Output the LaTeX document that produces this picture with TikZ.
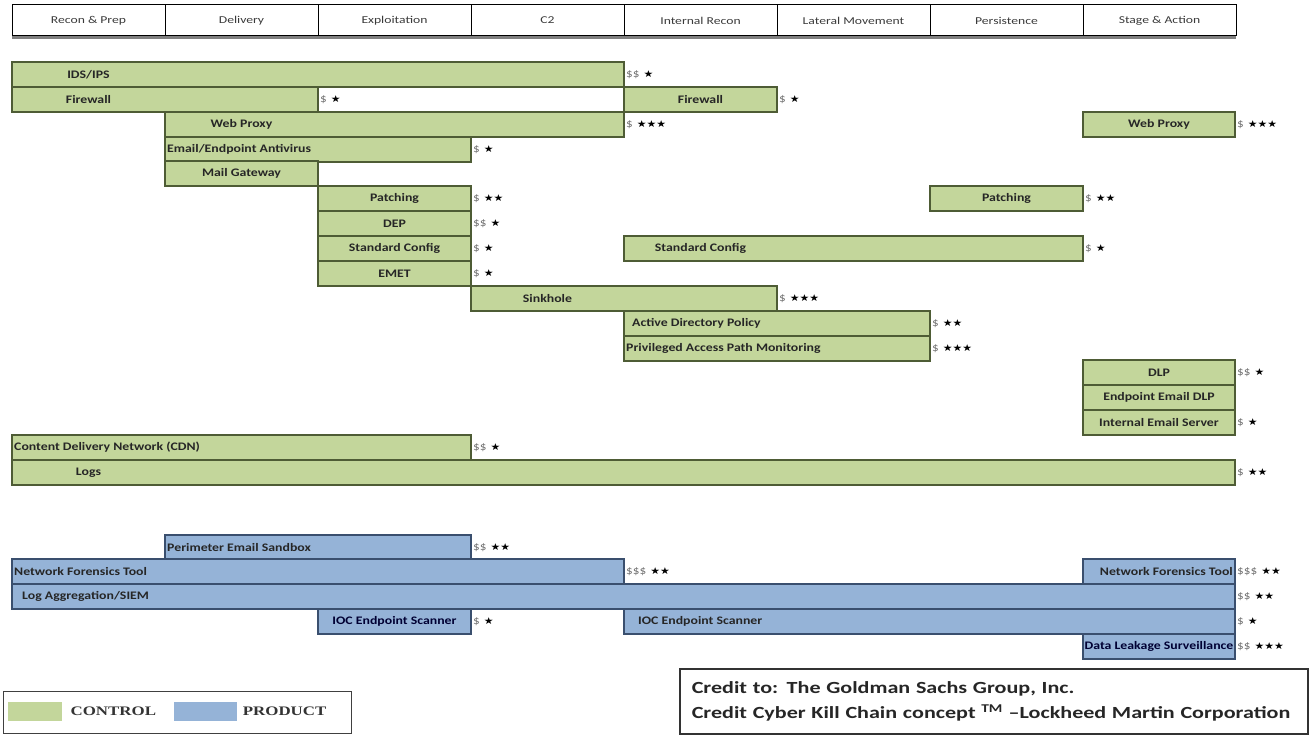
\documentclass[tikz,border=0pt]{standalone}
\usepackage{fontspec}
\setmainfont{Carlito}
\newfontfamily\barfont[FakeStretch=1.2]{Carlito}
\newfontfamily\hdrfont[FakeStretch=1.3]{Carlito}
\newfontfamily\symfont[FakeStretch=1.15]{DejaVu Sans}
\newfontfamily\legfont[FakeStretch=1.3]{Liberation Serif}
\usetikzlibrary{positioning,calc}
\definecolor{ctrlfill}{HTML}{C3D69B}
\definecolor{ctrlline}{HTML}{4E5C35}
\definecolor{prodfill}{HTML}{95B3D7}
\definecolor{prodline}{HTML}{3A4F6E}
\definecolor{hdrtext}{HTML}{3A3A3A}
\definecolor{dollargray}{HTML}{707070}
\newcommand{\cost}[2]{#1\hspace{4pt}{\symfont\fontsize{9.5}{11}\selectfont\color{black}#2}}
\tikzset{hdr/.style={draw=black, line width=1pt, minimum width=153pt, minimum height=31pt, inner sep=0pt, outer sep=0pt, text=hdrtext, font=\hdrfont\fontsize{10.5}{12}\selectfont}}
\tikzset{ctrl/.style={draw=ctrlline, fill=ctrlfill, line width=1.1pt, anchor=north west, minimum height=25pt, inner sep=0pt, outer sep=0pt, text=black!85, font=\barfont\bfseries\fontsize{11.5}{13}\selectfont}}
\tikzset{prod/.style={ctrl, draw=prodline, fill=prodfill, text=black!80!blue}}
\tikzset{lbl/.style={inner sep=2pt, text=black!85, font=\barfont\bfseries\fontsize{11.5}{13}\selectfont}}
\tikzset{note/.style={anchor=west, inner sep=2pt, text=dollargray, font=\barfont\fontsize{11}{13}\selectfont}}
\tikzset{legtext/.style={inner sep=0pt, font=\legfont\bfseries\fontsize{13}{15}\selectfont, text=black!80}}

\begin{document}
\begin{tikzpicture}[x=1pt, y=-1pt]
\useasboundingbox (0,0) rectangle (1310,735);

%KILL CHAIN PHASES
\node [hdr, anchor=north west] (h1) at (12,5) {Recon \& Prep};
\node [hdr, right=0pt of h1] (h2) {Delivery};
\node [hdr, right=0pt of h2] (h3) {Exploitation};
\node [hdr, right=0pt of h3] (h4) {C2};
\node [hdr, right=0pt of h4] (h5) {Internal Recon};
\node [hdr, right=0pt of h5] (h6) {Lateral Movement};
\node [hdr, right=0pt of h6] (h7) {Persistence};
\node [hdr, right=0pt of h7] (h8) {Stage \& Action};
\draw [gray, line width=2.5pt] ([yshift=-1.5]h1.south west) -- ([yshift=-1.5]h8.south east);

%CONTROLS
\node [ctrl, minimum width=612pt] (ids) at (12,62) {};
\node [lbl] at ([xshift=76.5]ids.west) {IDS/IPS};
\node [ctrl, minimum width=306pt] (fw1) at (12,87) {};
\node [lbl] at ([xshift=76.5]fw1.west) {Firewall};
\node [ctrl, minimum width=153pt] (fw2) at (624,87) {Firewall};
\node [ctrl, minimum width=459pt] (proxy1) at (165,112) {};
\node [lbl] at ([xshift=76.5]proxy1.west) {Web Proxy};
\node [ctrl, minimum width=152pt] (proxy2) at (1083,112) {Web Proxy};
\node [ctrl, minimum width=306pt] (av) at (165,137) {};
\node [lbl, anchor=west] at (av.west) {Email/Endpoint Antivirus};
\node [ctrl, minimum width=153pt] (mailgw) at (165,161) {Mail Gateway};
\node [ctrl, minimum width=153pt] (patch1) at (318,186) {Patching};
\node [ctrl, minimum width=153pt] (patch2) at (930,186) {Patching};
\node [ctrl, minimum width=153pt] (dep) at (318,211) {DEP};
\node [ctrl, minimum width=153pt] (conf1) at (318,236) {Standard Config};
\node [ctrl, minimum width=459pt] (conf2) at (624,236) {};
\node [lbl] at ([xshift=76.5]conf2.west) {Standard Config};
\node [ctrl, minimum width=153pt] (emet) at (318,261) {EMET};
\node [ctrl, minimum width=306pt] (sink) at (471,286) {};
\node [lbl] at ([xshift=76.5]sink.west) {Sinkhole};
\node [ctrl, minimum width=306pt] (adpol) at (624,311) {};
\node [lbl, anchor=west] at ([xshift=6]adpol.west) {Active Directory Policy};
\node [ctrl, minimum width=306pt] (pam) at (624,336) {};
\node [lbl, anchor=west] at (pam.west) {Privileged Access Path Monitoring};
\node [ctrl, minimum width=152pt] (dlp) at (1083,360) {DLP};
\node [ctrl, minimum width=152pt] (edlp) at (1083,385) {Endpoint Email DLP};
\node [ctrl, minimum width=152pt] (imail) at (1083,410) {Internal Email Server};
\node [ctrl, minimum width=459pt] (cdn) at (12,435) {};
\node [lbl, anchor=west] at (cdn.west) {Content Delivery Network (CDN)};
\node [ctrl, minimum width=1223pt] (logs) at (12,460) {};
\node [lbl] at ([xshift=76.5]logs.west) {Logs};

%PRODUCTS
\node [prod, minimum width=306pt] (sandbox) at (165,535) {};
\node [lbl, anchor=west] at (sandbox.west) {Perimeter Email Sandbox};
\node [prod, minimum width=612pt] (nft1) at (12,559) {};
\node [lbl, anchor=west] at (nft1.west) {Network Forensics Tool};
\node [prod, minimum width=152pt] (nft2) at (1083,559) {};
\node [lbl, anchor=east] at (nft2.east) {Network Forensics Tool};
\node [prod, minimum width=1223pt] (siem) at (12,584) {};
\node [lbl, anchor=west] at ([xshift=8]siem.west) {Log Aggregation/SIEM};
\node [prod, minimum width=153pt] (ioc1) at (318,609) {IOC Endpoint Scanner};
\node [prod, minimum width=611pt] (ioc2) at (624,609) {};
\node [lbl, anchor=west] at ([xshift=12]ioc2.west) {IOC Endpoint Scanner};
\node [prod, minimum width=152pt] (dls) at (1083,634) {Data Leakage Surveillance};

%COST AND RATING
\node [note] at (ids.east) {\cost{\$\$}{★}};
\node [note] at (fw1.east) {\cost{\$}{★}};
\node [note] at (fw2.east) {\cost{\$}{★}};
\node [note] at (proxy1.east) {\cost{\$}{★★★}};
\node [note] at (proxy2.east) {\cost{\$}{★★★}};
\node [note] at (av.east) {\cost{\$}{★}};
\node [note] at (patch1.east) {\cost{\$}{★★}};
\node [note] at (patch2.east) {\cost{\$}{★★}};
\node [note] at (dep.east) {\cost{\$\$}{★}};
\node [note] at (conf1.east) {\cost{\$}{★}};
\node [note] at (conf2.east) {\cost{\$}{★}};
\node [note] at (emet.east) {\cost{\$}{★}};
\node [note] at (sink.east) {\cost{\$}{★★★}};
\node [note] at (adpol.east) {\cost{\$}{★★}};
\node [note] at (pam.east) {\cost{\$}{★★★}};
\node [note] at (dlp.east) {\cost{\$\$}{★}};
\node [note] at (imail.east) {\cost{\$}{★}};
\node [note] at (cdn.east) {\cost{\$\$}{★}};
\node [note] at (logs.east) {\cost{\$}{★★}};
\node [note] at (sandbox.east) {\cost{\$\$}{★★}};
\node [note] at (nft1.east) {\cost{\$\$\$}{★★}};
\node [note] at (nft2.east) {\cost{\$\$\$}{★★}};
\node [note] at (siem.east) {\cost{\$\$}{★★}};
\node [note] at (ioc1.east) {\cost{\$}{★}};
\node [note] at (ioc2.east) {\cost{\$}{★}};
\node [note] at (dls.east) {\cost{\$\$}{★★★}};

%LEGEND
\node [draw=black!75, line width=1.2pt, anchor=north west, minimum width=348pt, minimum height=42pt] (legend) at (3,691) {};
\node [fill=ctrlfill, anchor=north west, minimum width=54pt, minimum height=19pt] (swctrl) at (8,702) {};
\node [legtext, right=8pt of swctrl] (lctrl) {CONTROL};
\node [fill=prodfill, minimum width=63pt, minimum height=19pt, right=18pt of lctrl] (swprod) {};
\node [legtext, right=5pt of swprod] (lprod) {PRODUCT};

%CREDIT
\node [draw=black!80, line width=1.5pt, anchor=north west, minimum width=628pt, minimum height=65pt, text width=604pt, align=left, text=black!85, font=\hdrfont\bfseries\fontsize{17}{25}\selectfont] (credit) at (679,668)
  {Credit to: The Goldman Sachs Group, Inc.\\Credit Cyber Kill Chain concept \textsuperscript{TM} –Lockheed Martin Corporation};

\end{tikzpicture}
\end{document}
